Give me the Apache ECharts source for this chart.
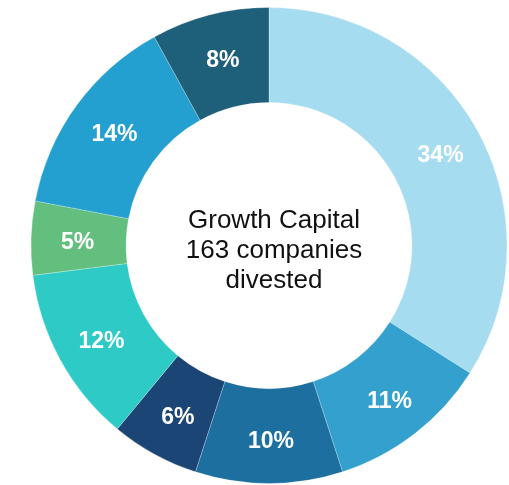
<!DOCTYPE html>
<html>
<head>
<meta charset="utf-8">
<script src="https://cdn.jsdelivr.net/npm/echarts@6/dist/echarts.min.js"></script>
<style>
  html, body { margin: 0; padding: 0; background: #fff; }
  #chart { width: 509px; height: 485px; }
</style>
</head>
<body>
<div id="chart"></div>
<script>
// slice shares, clockwise from 12 o'clock
var shares = [34, 11, 10, 6, 12, 5, 14, 8]
var sliceColors = ['#a6dcf0', '#33a0cd', '#1d6f9f', '#1b4574', '#2ecbc6', '#63bf7e', '#23a0d0', '#1e5f7a']
var centerLines = ['Growth Capital', '163 companies', 'divested']

var myChart = echarts.init(document.getElementById('chart'))
var pieData = []
for (var i = 0; i < shares.length; i++) {
  pieData.push({ value: shares[i], itemStyle: { color: sliceColors[i] } })
}

myChart.setOption({
  backgroundColor: '#ffffff',
  animation: false,
  title: {
    text: centerLines.join('\n'),
    left: 269,
    top: 246,
    textAlign: 'center',
    textVerticalAlign: 'middle',
    textStyle: {
      fontFamily: 'Liberation Sans, Arial, sans-serif',
      fontSize: 26,
      fontWeight: 'normal',
      color: '#111',
      lineHeight: 30
    }
  },
  series: [
    {
      type: 'pie',
      center: [269, 245.5],
      radius: [143, 238],
      startAngle: 90,
      clockwise: true,
      silent: true,
      data: pieData,
      itemStyle: {
        borderColor: 'rgba(255,255,255,0.5)',
        borderWidth: 0.5
      },
      label: {
        show: true,
        position: 'inside',
        formatter: '{c}%',
        color: '#fff',
        fontFamily: 'Liberation Sans, Arial, sans-serif',
        fontSize: 23,
        fontWeight: 'bold',
        offset: [2, 3]
      },
      labelLine: { show: false }
    }
  ]
})
</script>
</body>
</html>
